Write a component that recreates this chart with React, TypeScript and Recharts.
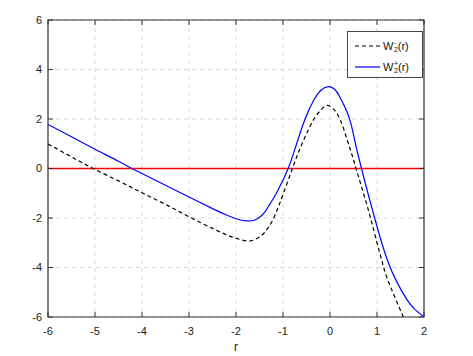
import React from "react";
import {
  ComposedChart,
  Line,
  XAxis,
  YAxis,
  CartesianGrid,
  ReferenceArea,
} from "recharts";

// W2+ (blue, solid)
const rPlus = [
  -6, -5.5, -5, -4.5, -4.22, -4, -3.5, -3, -2.5, -2.2, -2.0, -1.85, -1.72, -1.6,
  -1.49, -1.38, -1.28, -1.17, -1.06, -0.89, -0.71, -0.53, -0.35, -0.2, -0.04, 0.1,
  0.2, 0.3, 0.38, 0.46, 0.56, 0.67, 0.8, 0.95, 1.1, 1.24, 1.4, 1.63, 1.8, 2.0,
];
const wPlus = [
  1.78, 1.28, 0.78, 0.29, 0, -0.2, -0.68, -1.15, -1.62, -1.88, -2.03, -2.1, -2.12,
  -2.08, -1.96, -1.74, -1.44, -1.1, -0.7, 0, 1.0, 2.0, 2.75, 3.15, 3.31, 3.2, 2.92,
  2.55, 2.2, 1.7, 0.85, 0, -0.95, -2.0, -3.0, -3.8, -4.5, -5.28, -5.68, -6.0,
];

// W2- (black, dashed)
const rMinus = [
  -6, -5.5, -5.04, -4.5, -4, -3.5, -3, -2.5, -2.2, -2.0, -1.77, -1.6, -1.45, -1.35,
  -1.25, -1.13, -0.99, -0.8, -0.65, -0.5, -0.34, -0.2, -0.085, 0.05, 0.21, 0.35,
  0.46, 0.57, 0.72, 0.87, 1.0, 1.1, 1.2, 1.38, 1.56, 1.65,
];
const wMinus = [
  0.99, 0.47, 0, -0.5, -0.98, -1.45, -1.95, -2.42, -2.68, -2.82, -2.93, -2.87,
  -2.7, -2.48, -2.2, -1.7, -1.0, 0, 0.75, 1.4, 2.0, 2.35, 2.54, 2.45, 2.0, 1.25,
  0.6, -0.1, -1.05, -2.05, -3.0, -3.7, -4.35, -5.2, -6.0, -6.4,
];

// zero reference line (red)
const rZero = [-6, 2];
const wZero = [0, 0];

const xTicks = [-6, -5, -4, -3, -2, -1, 0, 1, 2];
const yTicks = [-6, -4, -2, 0, 2, 4, 6];

const plusData = rPlus.map((r, i) => ({ r, v: wPlus[i] }));
const minusData = rMinus.map((r, i) => ({ r, v: wMinus[i] }));
const zeroData = rZero.map((r, i) => ({ r, v: wZero[i] }));

const FONT = "'Liberation Sans', Arial, sans-serif";
const AXIS = "#333";

const XTick = (props: any) => {
  const { x, y, payload } = props;
  return (
    <g>
      <line x1={x} y1={y} x2={x} y2={y - 5} stroke={AXIS} strokeWidth={1} />
      <text x={x} y={y + 14} dy="0.35em" textAnchor="middle" fontSize={11} fontFamily={FONT} fill="#222">
        {payload.value}
      </text>
    </g>
  );
};

const YTick = (props: any) => {
  const { x, y, payload } = props;
  return (
    <g>
      <line x1={x} y1={y} x2={x + 5} y2={y} stroke={AXIS} strokeWidth={1} />
      <text x={x - 6} y={y} dy="0.35em" textAnchor="end" fontSize={11} fontFamily={FONT} fill="#222">
        {payload.value}
      </text>
    </g>
  );
};

const TopTick = (props: any) => {
  const { x, y } = props;
  return <line x1={x} y1={y} x2={x} y2={y + 5} stroke={AXIS} strokeWidth={1} />;
};

const RightTick = (props: any) => {
  const { x, y } = props;
  return <line x1={x} y1={y} x2={x - 5} y2={y} stroke={AXIS} strokeWidth={1} />;
};

const WLabel = ({ sign }: { sign: string }) => (
  <span style={{ fontFamily: FONT, fontSize: 11, color: "#111", display: "inline-flex", alignItems: "center" }}>
    W
    <span style={{ display: "inline-flex", flexDirection: "column", fontSize: 7, lineHeight: "7px", marginLeft: 0.5 }}>
      <span>{sign}</span>
      <span>2</span>
    </span>
    (r)
  </span>
);

const LegendBox = () => (
  <div
    style={{
      position: "absolute",
      left: 339,
      top: 23,
      border: "1px solid #444",
      background: "#fff",
      width: 76,
      height: 47,
      boxSizing: "border-box",
      padding: "3px 0 0 7px",
    }}
  >
    <div style={{ display: "flex", alignItems: "center", height: 21 }}>
      <svg width={25} height={6} style={{ marginRight: 3 }}>
        <line x1={0} y1={3} x2={25} y2={3} stroke="#000" strokeWidth={1.2} strokeDasharray="4 3" />
      </svg>
      <WLabel sign="-" />
    </div>
    <div style={{ display: "flex", alignItems: "center", height: 21 }}>
      <svg width={25} height={6} style={{ marginRight: 3 }}>
        <line x1={0} y1={3} x2={25} y2={3} stroke="#0000ff" strokeWidth={1.2} />
      </svg>
      <WLabel sign="+" />
    </div>
  </div>
);

export default function App() {
  return (
    <div style={{ position: "relative", width: 465, height: 348 }}>
      <ComposedChart
        width={465}
        height={348}
        margin={{ top: 7, right: 39, left: 10, bottom: 9 }}
      >
        <CartesianGrid stroke="#d8d8d8" strokeDasharray="4 4" horizontalValues={yTicks} verticalValues={xTicks} />
        <XAxis
          dataKey="r"
          type="number"
          domain={[-6, 2]}
          ticks={xTicks}
          allowDataOverflow
          tickSize={0}
          tickMargin={0}
          tick={<XTick />}
          axisLine={false}
          height={30}
          label={{ value: "r", position: "insideBottom", offset: -4, fontSize: 12, fontFamily: FONT, fill: "#222" }}
        />
        <XAxis
          xAxisId="top"
          orientation="top"
          dataKey="r"
          type="number"
          domain={[-6, 2]}
          ticks={xTicks}
          allowDataOverflow
          tickSize={0}
          tickMargin={0}
          tick={<TopTick />}
          axisLine={false}
          height={5}
        />
        <YAxis
          type="number"
          domain={[-6, 6]}
          ticks={yTicks}
          allowDataOverflow
          tickSize={0}
          tickMargin={0}
          tick={<YTick />}
          axisLine={false}
          width={30}
        />
        <YAxis
          yAxisId="right"
          orientation="right"
          type="number"
          domain={[-6, 6]}
          ticks={yTicks}
          allowDataOverflow
          tickSize={0}
          tickMargin={0}
          tick={<RightTick />}
          axisLine={false}
          width={10}
        />
        <Line data={zeroData} dataKey="v" type="linear" stroke="#ff0000" strokeWidth={1.3} dot={false} isAnimationActive={false} />
        <Line data={minusData} dataKey="v" type="natural" stroke="#000" strokeWidth={1.2} strokeDasharray="4 3" dot={false} isAnimationActive={false} />
        <Line data={plusData} dataKey="v" type="natural" stroke="#0000ff" strokeWidth={1.2} dot={false} isAnimationActive={false} />
        <ReferenceArea x1={-6} x2={2} y1={-6} y2={6} fill="none" stroke={AXIS} strokeWidth={1.2} fillOpacity={0} ifOverflow="visible" />
      </ComposedChart>
      <LegendBox />
    </div>
  );
}
